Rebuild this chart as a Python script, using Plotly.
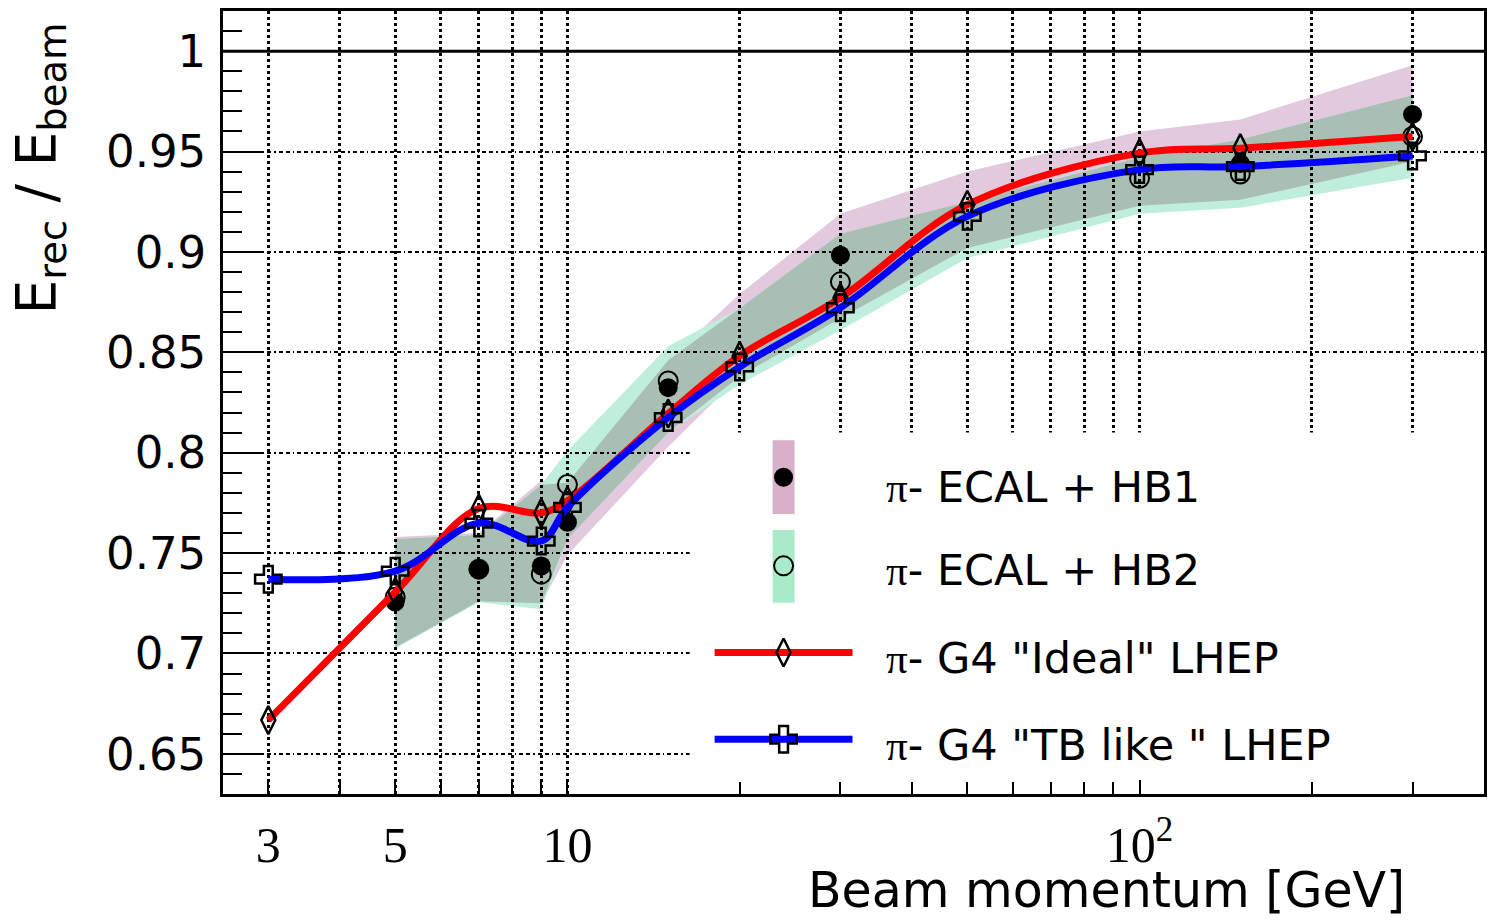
import plotly.graph_objects as go
import numpy as np

# ---------------- data ----------------
E_model = [3, 5, 7, 9, 10, 15, 20, 30, 50, 100, 150, 300]
g4_ideal = [0.6668, 0.7306, 0.7722, 0.7700, 0.7760, 0.8195, 0.8482, 0.8771, 0.9235, 0.9492, 0.9517, 0.9575]
g4_tblike = [0.7370, 0.7410, 0.7649, 0.7560, 0.7728, 0.8175, 0.8427, 0.8722, 0.9177, 0.9410, 0.9425, 0.9478]

E_data = [5, 7, 9, 10, 15, 30, 100, 150, 300]
hb1 = [0.7256, 0.7420, 0.7436, 0.7654, 0.8324, 0.8983, None, 0.9440, 0.9685]
hb2 = [0.7280, 0.7420, 0.7395, 0.7842, 0.8357, 0.8851, 0.9367, 0.9388, 0.9575]

E_band = [5, 7, 9, 10, 15, 20, 30, 50, 100, 150, 300]
hb1_hi = [0.758, 0.760, 0.786, 0.785, 0.846, 0.879, 0.919, 0.940, 0.960, 0.966, 0.993]
hb1_lo = [0.703, 0.726, 0.725, 0.749, 0.803, 0.838, 0.867, 0.902, 0.923, 0.926, 0.945]
hb2_hi = [0.757, 0.759, 0.784, 0.801, 0.853, 0.872, 0.909, 0.925, 0.947, 0.956, 0.978]
hb2_lo = [0.7025, 0.7255, 0.722, 0.757, 0.810, 0.834, 0.861, 0.897, 0.919, 0.922, 0.937]

x_major = [3, 5, 10, 100]
x_major_text = ["3", "5", "10", "10<sup>2</sup>"]
x_minor = [4, 6, 7, 8, 9, 20, 30, 40, 50, 60, 70, 80, 90, 200, 300]
y_major = [0.65, 0.7, 0.75, 0.8, 0.85, 0.9, 0.95, 1.0]
y_major_text = ["0.65", "0.7", "0.75", "0.8", "0.85", "0.9", "0.95", "1"]

legend_labels = [
    "<span style='font-family:Liberation Serif'>π</span>- ECAL + HB1",
    "<span style='font-family:Liberation Serif'>π</span>- ECAL + HB2",
    "<span style='font-family:Liberation Serif'>π</span>- G4 \"Ideal\" LHEP",
    "<span style='font-family:Liberation Serif'>π</span>- G4 \"TB like \" LHEP",
]

# ---------------- layout geometry (pixels) ----------------
W, H = 1495, 921
L, R, T, B = 223, 1485, 8, 794


def fx(p):
    return (p - L) / (R - L)


def fy(p):
    return (B - p) / (B - T)


PINK = "#E3C9DD"
MINT = "#BFEFDC"
GREY = "#AABFB4"
PINK_LEG = "#D9B0CA"
MINT_LEG = "#A9EACB"


def band_path(x, lo, hi):
    pts = list(zip(x, hi)) + list(zip(x[::-1], lo[::-1]))
    return "M " + " L ".join(f"{a},{b}" for a, b in pts) + " Z"


ov_lo = list(np.maximum(hb1_lo, hb2_lo))
ov_hi = list(np.minimum(hb1_hi, hb2_hi))

shapes = [
    dict(type="path", xref="x", yref="y", path=band_path(E_band, hb1_lo, hb1_hi),
         fillcolor=PINK, line=dict(width=0), layer="below"),
    dict(type="path", xref="x", yref="y", path=band_path(E_band, hb2_lo, hb2_hi),
         fillcolor=MINT, line=dict(width=0), layer="below"),
    dict(type="path", xref="x", yref="y", path=band_path(E_band, ov_lo, ov_hi),
         fillcolor=GREY, line=dict(width=0), layer="below"),
    dict(type="line", xref="paper", yref="y", x0=0, x1=1, y0=1.0, y1=1.0,
         line=dict(color="black", width=3), layer="above"),
]

fig = go.Figure()

# data points
fig.add_trace(go.Scatter(x=E_data, y=hb1, mode="markers",
                         marker=dict(symbol="circle", size=19, color="black"),
                         showlegend=False))
fig.add_trace(go.Scatter(x=E_data, y=hb2, mode="markers",
                         marker=dict(symbol="circle-open", size=19, color="black",
                                     line=dict(width=2, color="black")),
                         showlegend=False))
fig.add_trace(go.Scatter(x=E_model, y=g4_ideal, mode="lines+markers",
                         line=dict(color="#FF0000", width=7, shape="spline", smoothing=1.0),
                         marker=dict(symbol="diamond-tall-open", size=20, color="black",
                                     line=dict(width=2.5, color="black")),
                         showlegend=False))
fig.add_trace(go.Scatter(x=E_model, y=g4_tblike, mode="lines+markers",
                         line=dict(color="#0000FF", width=7, shape="spline", smoothing=1.0),
                         marker=dict(symbol="cross-open", size=22, color="black",
                                     line=dict(width=2.5, color="black")),
                         showlegend=False))

# ---------------- hand-made legend (overlay axes in plot-fraction units) ----------------
bx0, by1 = fx(690), fy(431)
fig.add_trace(go.Scatter(x=[bx0, 1, 1, bx0, bx0], y=[0, 0, by1, by1, 0], mode="lines",
                         fill="toself", fillcolor="white", line=dict(width=0, color="white"),
                         xaxis="x2", yaxis="y2", showlegend=False, hoverinfo="skip"))
for (y0, y1, col) in [(439, 513, PINK_LEG), (529, 602, MINT_LEG)]:
    fig.add_trace(go.Scatter(x=[fx(773), fx(795), fx(795), fx(773), fx(773)],
                             y=[fy(y0), fy(y0), fy(y1), fy(y1), fy(y0)], mode="lines",
                             fill="toself", fillcolor=col, line=dict(width=0, color=col),
                             xaxis="x2", yaxis="y2", showlegend=False, hoverinfo="skip"))
fig.add_trace(go.Scatter(x=[fx(784)], y=[fy(476)], mode="markers",
                         marker=dict(symbol="circle", size=19, color="black"),
                         xaxis="x2", yaxis="y2", showlegend=False))
fig.add_trace(go.Scatter(x=[fx(784)], y=[fy(565)], mode="markers",
                         marker=dict(symbol="circle-open", size=19, color="black",
                                     line=dict(width=2, color="black")),
                         xaxis="x2", yaxis="y2", showlegend=False))
for (yy, col, sym, sz, lw) in [(652, "#FF0000", "diamond-tall-open", 20, 2.5),
                               (739, "#0000FF", "cross-open", 22, 2.5)]:
    fig.add_trace(go.Scatter(x=[fx(715), fx(853)], y=[fy(yy), fy(yy)], mode="lines",
                             line=dict(color=col, width=7),
                             xaxis="x2", yaxis="y2", showlegend=False))
    fig.add_trace(go.Scatter(x=[fx(784)], y=[fy(yy)], mode="markers",
                             marker=dict(symbol=sym, size=sz, color="black",
                                         line=dict(width=lw, color="black")),
                             xaxis="x2", yaxis="y2", showlegend=False))

annotations = []
for lab, yy in zip(legend_labels, [486, 569, 657, 745]):
    annotations.append(dict(text=lab, xref="paper", yref="paper", x=fx(885), y=fy(yy),
                            xanchor="left", yanchor="middle", showarrow=False,
                            font=dict(family="DejaVu Sans", size=43, color="black")))
annotations.append(dict(text="Beam momentum [GeV]", xref="paper", yref="paper",
                        x=fx(1408), y=fy(891), xanchor="right", yanchor="middle",
                        showarrow=False,
                        font=dict(family="DejaVu Sans", size=49, color="black")))
annotations.append(dict(text="E<sub>rec</sub> / E<sub>beam</sub>", xref="paper", yref="paper",
                        x=fx(40), y=fy(166), xanchor="center", yanchor="middle",
                        textangle=-90, showarrow=False,
                        font=dict(family="DejaVu Sans", size=55, color="black")))

x_grid_dash = "3px,3px"
y_grid_dash = "4px,3px,4px,3px,1.5px,3px"
fig.update_layout(
    width=W, height=H,
    margin=dict(l=L, r=W - R, t=T, b=H - B, pad=0),
    paper_bgcolor="white", plot_bgcolor="white",
    showlegend=False,
    shapes=shapes,
    annotations=annotations,
    xaxis=dict(type="log", range=[np.log10(2.5), np.log10(400)],
               tickmode="array", tickvals=x_major, ticktext=x_major_text,
               ticks="inside", ticklen=14, tickwidth=2, tickcolor="black",
               tickfont=dict(family="Liberation Serif", size=50, color="black"),
               ticklabelstandoff=5,
               showgrid=True, gridcolor="black", gridwidth=2.5, griddash=x_grid_dash,
               minor=dict(tickmode="array", tickvals=x_minor, ticks="inside", ticklen=12,
                          tickwidth=2, tickcolor="black", showgrid=True,
                          gridcolor="black", gridwidth=2.5, griddash=x_grid_dash),
               showline=True, linewidth=2.5, linecolor="black", mirror=True,
               zeroline=False),
    yaxis=dict(range=[0.63, 1.02],
               tickmode="array", tickvals=y_major, ticktext=y_major_text,
               ticks="inside", ticklen=40, tickwidth=2, tickcolor="black",
               tickfont=dict(family="DejaVu Sans", size=45, color="black"),
               ticklabelstandoff=5,
               showgrid=True, gridcolor="black", gridwidth=2, griddash=y_grid_dash,
               minor=dict(tickmode="linear", tick0=0.0, dtick=0.01, ticks="inside",
                          ticklen=19, tickwidth=2, tickcolor="black", showgrid=False),
               showline=True, linewidth=2.5, linecolor="black", mirror=True,
               zeroline=False),
    xaxis2=dict(overlaying="x", range=[0, 1], visible=False, anchor="y2"),
    yaxis2=dict(overlaying="y", range=[0, 1], visible=False, anchor="x2"),
)

fig.write_html("out.html")
